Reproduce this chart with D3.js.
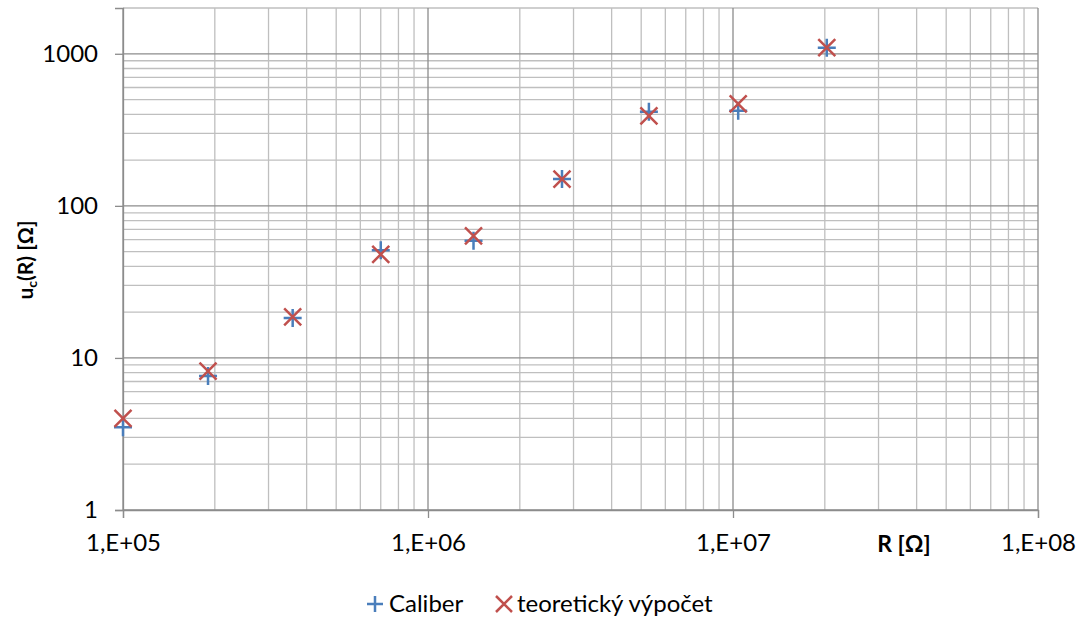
<!DOCTYPE html>
<html>
<head>
<meta charset="utf-8">
<script src="https://cdn.jsdelivr.net/npm/d3@7"></script>
<style>
  body { margin: 0; background: #fff; }
  svg text { font-family: Lato, "Open Sans", sans-serif; fill: #000; }
</style>
</head>
<body>
<div id="chart"></div>
<script>
// values
const resistance = [1.0e5, 1.9e5, 3.6e5, 7.0e5, 1.41e6, 2.75e6, 5.3e6, 1.04e7, 2.03e7]
const caliber = [3.5, 7.6, 18.3, 51, 59, 150, 415, 422, 1096]
const theory = [4.0, 8.2, 18.6, 48, 63.5, 150, 391, 469, 1096]
const xTicks = [1e5, 1e6, 1e7, 1e8]
const xTickLabels = ["1,E+05", "1,E+06", "1,E+07", "1,E+08"]
const yTicks = [1, 10, 100, 1000]

const W = 1083, H = 618
const margin = {top: 8, right: 45, bottom: 108, left: 123}
const w = W - margin.left - margin.right,
  h = H - margin.top - margin.bottom

const blue = "#4a7ebb", red = "#c0504d"

const svg = d3.select("#chart")
  .append("svg")
  .attr("width", W)
  .attr("height", H)

const g = svg.append("g")
  .attr("transform", `translate(${margin.left},${margin.top})`)

const x = d3.scaleLog().domain([1e5, 1e8]).range([0, w])
const y = d3.scaleLog().domain([1, 2000]).range([h, 0])

// minor grid
const xMinor = []
for (let d = 1e5; d < 1e8; d *= 10) for (let k = 2; k <= 9; k++) xMinor.push(d * k)
const yMinor = []
for (let d = 1; d < 2000; d *= 10) for (let k = 2; k <= 9; k++) if (d * k <= 2000) yMinor.push(d * k)

g.selectAll(".xminor").data(xMinor).enter().append("line")
  .attr("x1", d => x(d)).attr("x2", d => x(d))
  .attr("y1", 0).attr("y2", h)
  .attr("stroke", "#bfbfbf").attr("stroke-width", 1.3)

g.selectAll(".yminor").data(yMinor).enter().append("line")
  .attr("y1", d => y(d)).attr("y2", d => y(d))
  .attr("x1", 0).attr("x2", w)
  .attr("stroke", "#bfbfbf").attr("stroke-width", 1.3)

// major grid
g.selectAll(".xmajor").data(xTicks).enter().append("line")
  .attr("x1", d => x(d)).attr("x2", d => x(d))
  .attr("y1", 0).attr("y2", h)
  .attr("stroke", "#8c8c8c").attr("stroke-width", 1.3)

g.selectAll(".ymajor").data(yTicks).enter().append("line")
  .attr("y1", d => y(d)).attr("y2", d => y(d))
  .attr("x1", 0).attr("x2", w)
  .attr("stroke", "#8c8c8c").attr("stroke-width", 1.3)

// axes
const xAxis = g.append("g")
  .attr("transform", `translate(0,${h})`)
  .call(d3.axisBottom(x).tickValues(xTicks).tickSize(8).tickPadding(16)
    .tickFormat((d, i) => xTickLabels[i]))
xAxis.select(".domain").attr("stroke", "#8c8c8c").attr("stroke-width", 1.3)
xAxis.selectAll(".tick line").attr("stroke", "#8c8c8c").attr("stroke-width", 1.3)
xAxis.selectAll("text").style("font-size", "24px")

const yAxis = g.append("g")
  .call(d3.axisLeft(y).tickValues(yTicks).tickSize(8).tickPadding(17)
    .tickFormat(d3.format("d")))
yAxis.select(".domain").attr("stroke", "#8c8c8c").attr("stroke-width", 1.3)
yAxis.selectAll(".tick line").attr("stroke", "#8c8c8c").attr("stroke-width", 1.3)
yAxis.selectAll("text").style("font-size", "24px")

// axis titles
svg.append("text")
  .attr("x", 904).attr("y", 552)
  .attr("text-anchor", "middle")
  .style("font-size", "23px").style("font-weight", "bold")
  .text("R [Ω]")

const yTitle = svg.append("text")
  .attr("transform", "translate(33,260) rotate(-90)")
  .attr("text-anchor", "middle")
  .style("font-size", "21px").style("font-weight", "bold")
yTitle.append("tspan").text("u")
yTitle.append("tspan").attr("dy", 4).style("font-size", "14px").text("c")
yTitle.append("tspan").attr("dy", -4).text("(R) [Ω]")

// markers
const s = 9
g.selectAll(".plus").data(resistance).enter().append("path")
  .attr("d", (d, i) => {
    const cx = x(d), cy = y(caliber[i])
    return `M${cx - s},${cy}H${cx + s}M${cx},${cy - s}V${cy + s}`
  })
  .attr("stroke", blue).attr("stroke-width", 2.5).attr("fill", "none")

g.selectAll(".cross").data(resistance).enter().append("path")
  .attr("d", (d, i) => {
    const cx = x(d), cy = y(theory[i]), r = 8.5
    return `M${cx - r},${cy - r}L${cx + r},${cy + r}M${cx - r},${cy + r}L${cx + r},${cy - r}`
  })
  .attr("stroke", red).attr("stroke-width", 2.5).attr("fill", "none")

// legend
const legend = svg.append("g").attr("transform", "translate(0,604)")
legend.append("path")
  .attr("d", "M367,0H383M375,-8V8")
  .attr("stroke", blue).attr("stroke-width", 2.5)
legend.append("text").attr("x", 389).attr("y", 8)
  .style("font-size", "24px").text("Caliber")
legend.append("path")
  .attr("d", "M496,-8L512,8M496,8L512,-8")
  .attr("stroke", red).attr("stroke-width", 2.5)
legend.append("text").attr("x", 517).attr("y", 8)
  .style("font-size", "24px").text("teoretický výpočet")
</script>
</body>
</html>
